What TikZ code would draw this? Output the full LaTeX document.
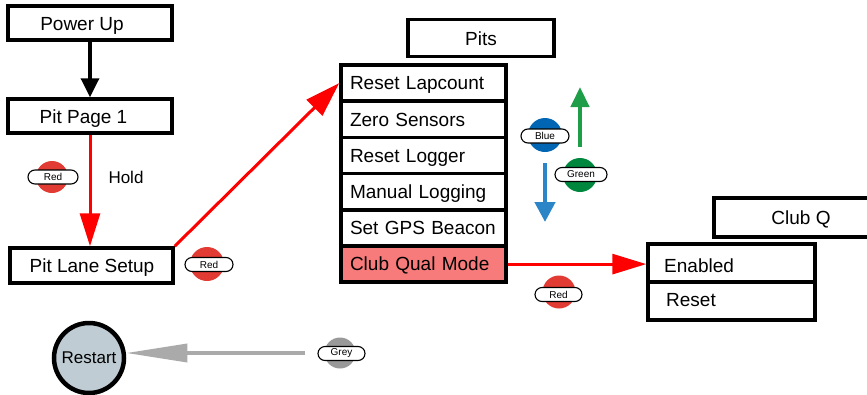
\documentclass[tikz,border=0pt]{standalone}
\usepackage{fontspec}
\setmainfont{Liberation Sans}
\usetikzlibrary{arrows.meta}
\definecolor{badgered}{HTML}{E23B33}
\definecolor{badgeblue}{HTML}{0066B3}
\definecolor{arrblue}{HTML}{2B85C6}
\definecolor{badgegreen}{HTML}{00873E}
\definecolor{arrgreen}{HTML}{1F9E4A}
\definecolor{badgegrey}{HTML}{999999}
\definecolor{arrgrey}{HTML}{AAAAAA}
\definecolor{qualfill}{HTML}{F77B7B}
\definecolor{restartfill}{HTML}{BFCCD4}
\begin{document}
\begin{tikzpicture}[x=1pt,y=-1pt,
  boxtext/.style={font=\fontsize{19}{22}\selectfont, inner sep=0pt, text height=13.6pt, text depth=0pt},
  frame/.style={draw, line width=3.5pt, fill=white, inner sep=0pt},
  rowbox/.style={frame, minimum height=36.2pt, text width=147pt, align=left, inner xsep=9pt, inner ysep=0pt, font=\fontsize{19}{22}\selectfont, text height=13.6pt, text depth=0pt},
  subbox/.style={frame, minimum height=38pt, text width=135pt, align=left, inner xsep=16pt, inner ysep=0pt, font=\fontsize{19}{22}\selectfont, text height=13.6pt, text depth=0pt},
  dot/.style={circle, inner sep=0pt},
  pill/.style={draw, fill=white, line width=1.1pt, rounded corners=7pt, minimum height=14pt, inner sep=0pt, font=\fontsize{10}{10}\selectfont},
  conn/.style={line width=3pt}
]
\useasboundingbox (0,0) rectangle (867,394);

% left column
\node[frame, minimum width=164pt, minimum height=34pt] (pu) at (90,23) {};
\node[boxtext] (putext) at (82,23.5) {Power Up};
\node[frame, minimum width=164pt, minimum height=34pt] (pp1) at (90,116) {};
\node[boxtext] (pp1text) at (83.5,116.5) {Pit Page 1};
\node[frame, minimum width=163pt, minimum height=35pt] (pls) at (91.5,265.5) {};
\node[boxtext] (plstext) at (92,266) {Pit Lane Setup};

% Pits
\node[frame, minimum width=146pt, minimum height=37pt] (pits) at (481,38) {};
\node[boxtext] (pitstext) at (481,38.5) {Pits};
\node[rowbox] (r1) at (423.5,83.1) {Reset Lapcount};
\node[rowbox] (r2) at (423.5,119.3) {Zero Sensors};
\node[rowbox] (r3) at (423.5,155.5) {Reset Logger};
\node[rowbox] (r4) at (423.5,191.7) {Manual Logging};
\node[rowbox] (r5) at (423.5,227.9) {Set GPS Beacon};
\node[rowbox, fill=qualfill] (r6) at (423.5,264.1) {Club Qual Mode};

% Club Q
\node[frame, minimum width=174pt, minimum height=39pt] (clubq) at (801,217.5) {};
\node[boxtext] (clubqtext) at (801,217.5) {Club Q};
\node[frame, minimum width=167pt, minimum height=38pt] (en) at (731.5,263) {};
\node[boxtext, anchor=west] (entext) at (664,266) {Enabled};
\node[frame, minimum width=167pt, minimum height=38pt] (rs) at (731.5,301) {};
\node[boxtext, anchor=west] (rstext) at (666,300) {Reset};

% Restart
\node[circle, draw, line width=4.5pt, fill=restartfill, minimum size=70pt, inner sep=0pt,
      font=\fontsize{17}{20}\selectfont] (restart) at (89,358) {Restart};

% connectors
\draw[line width=3.5pt, -{Triangle[length=19pt,width=18pt]}] (pu.south) -- (pp1.north);
\draw[conn, red, -{Triangle[length=33pt,width=20pt]}] (pp1.south) -- (pp1.south |- pls.north);
\draw[conn, red, -{Triangle[length=35pt,width=22pt]}] (pls.north east) -- (r1.west);
\draw[conn, red, -{Triangle[length=34pt,width=20pt]}] (r6.east) -- (r6.east -| en.west);

\coordinate (gstart) at (305,353);
\draw[line width=3.5pt, arrgrey, -{Triangle[length=61pt,width=18pt]}] (gstart) -- (restart.east |- gstart);

\coordinate (bstart) at (545,163);
\coordinate (bend) at (545,222);
\draw[line width=4.5pt, arrblue, -{Triangle[length=20pt,width=20pt]}] (bstart) -- (bend);
\coordinate (gnstart) at (580,147);
\coordinate (gnend) at (580,87);
\draw[line width=4.5pt, arrgreen, -{Triangle[length=20pt,width=18pt]}] (gnstart) -- (gnend);

% Hold label
\node[font=\fontsize{17}{20}\selectfont, inner sep=0pt] (hold) at (126,177) {Hold};

% badges
\node[dot, fill=badgered, minimum size=32pt] (c1) at (52,177) {};
\node[pill, minimum width=50pt] (p1) at (53,177) {Red};
\node[dot, fill=badgered, minimum size=34pt] (c2) at (207,264) {};
\node[pill, minimum width=48pt] (p2) at (209,264.5) {Red};
\node[dot, fill=badgeblue, minimum size=34pt] (c3) at (545,135) {};
\node[pill, minimum width=48pt] (p3) at (545,136) {Blue};
\node[dot, fill=badgegreen, minimum size=34pt] (c4) at (580,175) {};
\node[pill, minimum width=52pt] (p4) at (581,174.5) {Green};
\node[dot, fill=badgered, minimum size=33pt] (c5) at (559,292) {};
\node[pill, minimum width=47pt] (p5) at (558.5,294.5) {Red};
\node[dot, fill=badgegrey, minimum size=31pt] (c6) at (340,353) {};
\node[pill, minimum width=47pt] (p6) at (341.5,353.5) {Grey};
\end{tikzpicture}
\end{document}
